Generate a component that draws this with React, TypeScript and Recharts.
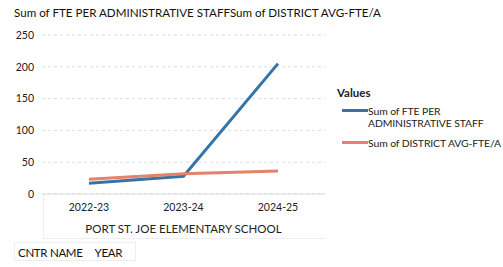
import { LineChart, Line, XAxis, YAxis, CartesianGrid, Label } from 'recharts';

const years = ['2022-23', '2023-24', '2024-25'];
const ftePerAdmin = [17, 28, 205];
const districtAvg = [23, 32, 36];
const yTicks = [0, 50, 100, 150, 200, 250];

const BLUE = '#3574a8';
const ORANGE = '#e5826a';
const FONT = 'Lato, "Open Sans", sans-serif';

const data = years.map((year, i) => ({
    year,
    fte: ftePerAdmin[i],
    avg: districtAvg[i],
}));

function LegendBox() {
    const row = { display: 'flex', alignItems: 'flex-start', fontSize: 10.4, letterSpacing: -0.1, color: '#222', lineHeight: '12px', whiteSpace: 'nowrap' as const };
    const swatch = (c: string) => (
        <span style={{ display: 'inline-block', width: 26, height: 3, background: c, marginTop: 4, marginLeft: 5, flex: 'none' }} />
    );
    return (
        <div style={{ position: 'absolute', left: 337, top: 86, width: 166, fontFamily: FONT }}>
            <div style={{ fontSize: 11.5, fontWeight: 700, color: '#222', marginBottom: 6 }}>Values</div>
            <div style={row}>
                {swatch(BLUE)}
                <span>Sum of FTE PER<br />ADMINISTRATIVE STAFF</span>
            </div>
            <div style={{ ...row, marginTop: 8 }}>
                {swatch(ORANGE)}
                <span>Sum of DISTRICT AVG-FTE/A</span>
            </div>
        </div>
    );
}

export default function App() {
    return (
        <div style={{ position: 'absolute', top: 0, left: 0, width: 503, height: 267, background: '#fff', fontFamily: FONT }}>
            <div style={{ position: 'absolute', left: 14, top: 6, fontSize: 11.6, color: '#111', whiteSpace: 'nowrap' }}>
                Sum of FTE PER ADMINISTRATIVE STAFFSum of DISTRICT AVG-FTE/A
            </div>
            <div style={{ position: 'absolute', left: 43, top: 195, width: 282, height: 43, borderLeft: '1px solid #eee', borderBottom: '1px solid #eee' }} />
            <LineChart
                width={503}
                height={267}
                data={data}
                margin={{ top: 35, right: 178, bottom: 28, left: 0 }}
            >
                <CartesianGrid vertical={false} stroke="#dcdcdc" strokeDasharray="3 3" />
                <XAxis
                    dataKey="year"
                    padding={{ left: 47, right: 47 }}
                    axisLine={{ stroke: '#dcdcdc' }}
                    tickLine={false}
                    tickMargin={4}
                    height={45}
                    tick={{ fontSize: 10.5, fill: '#222', fontFamily: FONT }}
                >
                    <Label
                        value="PORT ST. JOE ELEMENTARY SCHOOL"
                        position="insideBottom"
                        offset={6}
                        style={{ fontSize: 11.5, fill: '#222', fontFamily: FONT }}
                    />
                </XAxis>
                <YAxis
                    width={42}
                    domain={[0, 250]}
                    ticks={yTicks}
                    axisLine={false}
                    tickLine={false}
                    tick={{ fontSize: 10.5, fill: '#222', fontFamily: FONT }}
                />
                <Line type="linear" dataKey="fte" stroke={BLUE} strokeWidth={3} dot={false} isAnimationActive={false} />
                <Line type="linear" dataKey="avg" stroke={ORANGE} strokeWidth={3} dot={false} isAnimationActive={false} />
            </LineChart>
            <LegendBox />
            <div style={{ position: 'absolute', left: 14, top: 242, width: 122, height: 19, border: '1px solid #eee', fontSize: 11.5, letterSpacing: -0.3, color: '#111', lineHeight: '19px', paddingLeft: 3, boxSizing: 'border-box', whiteSpace: 'nowrap' }}>
                <span>CNTR NAME</span>
                <span style={{ marginLeft: 12 }}>YEAR</span>
            </div>
        </div>
    );
}
